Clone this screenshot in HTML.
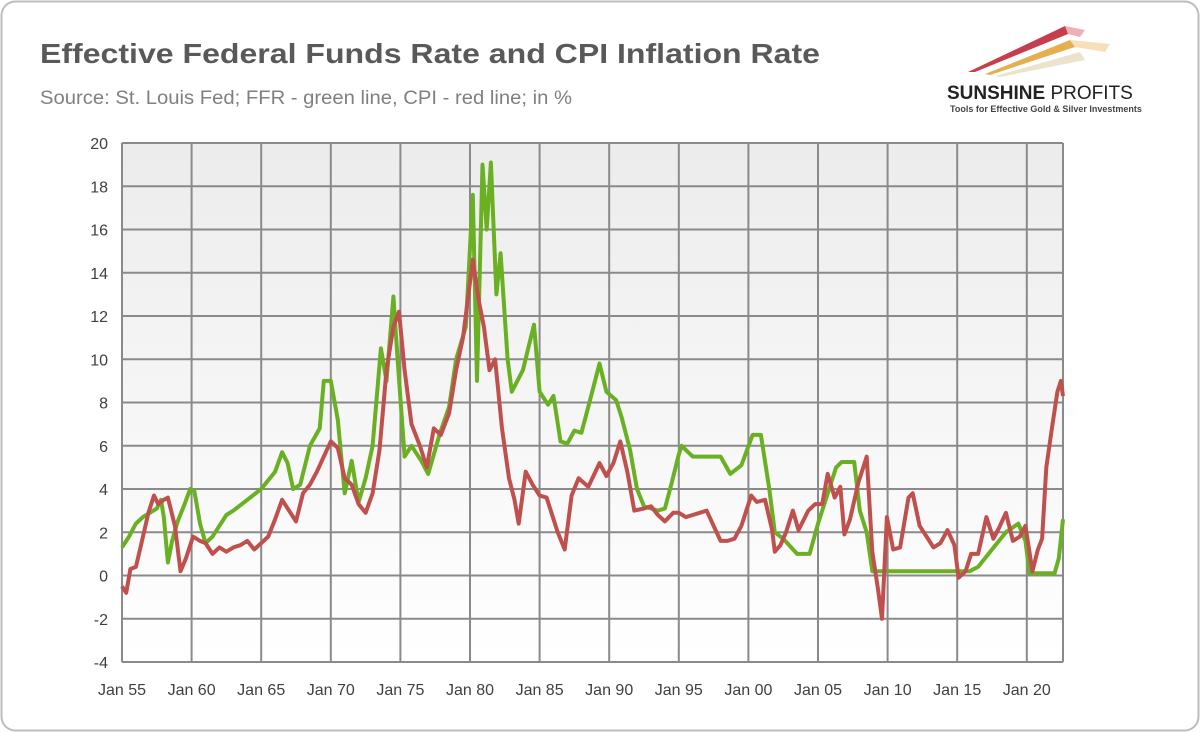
<!DOCTYPE html>
<html><head><meta charset="utf-8"><style>
body{margin:0;background:#fff;}
#wrap{position:relative;width:1200px;height:732px;overflow:hidden;font-family:"Liberation Sans",sans-serif;}
</style></head><body>
<div id="wrap">
<svg id="svg" width="1200" height="732">
<defs><linearGradient id="bg" x1="0" y1="0" x2="0" y2="1"><stop offset="0" stop-color="#ececec"/><stop offset="1" stop-color="#ffffff"/></linearGradient></defs>
<rect x="1.5" y="1.5" width="1197" height="729" rx="14" fill="#fff" stroke="#bdbdbd" stroke-width="2"/>
<text x="40" y="63" font-size="28" font-weight="bold" fill="#595959" textLength="780" lengthAdjust="spacingAndGlyphs">Effective Federal Funds Rate and CPI Inflation Rate</text>
<text x="40" y="104" font-size="19" fill="#808080" textLength="532" lengthAdjust="spacingAndGlyphs">Source: St. Louis Fed; FFR - green line, CPI - red line; in %</text>
<g>
<polygon points="968,72 1065,26 1068,34 975,72" fill="#c0283a" opacity="0.9"/>
<polygon points="1065,26 1085,30 1080,37 1068,34" fill="#e06070" opacity="0.5"/>
<polygon points="985,74 1070,40 1075,47 990,75" fill="#e0a030" opacity="0.85"/>
<polygon points="1070,40 1110,44 1105,52 1075,47" fill="#f0c070" opacity="0.5"/>
<polygon points="995,76 1080,52 1085,60 1000,77" fill="#e8dcc0" opacity="0.8"/>
<text x="947" y="99" font-size="19" font-weight="bold" fill="#222">SUNSHINE <tspan font-weight="normal">PROFITS</tspan></text>
<text x="950" y="112" font-size="9" font-weight="bold" fill="#444">Tools for Effective Gold &amp; Silver Investments</text>
</g>
<rect x="122" y="143" width="941" height="519" fill="url(#bg)"/>
<g id="grid"></g><g id="axes"></g><g id="series"></g>
</svg>
</div>
<script>
const ffrYears=[1955.0,1955.5,1956,1956.5,1957,1957.5,1957.8,1958.0,1958.3,1958.6,1959,1959.5,1959.9,1960.2,1960.6,1961,1961.5,1962,1962.5,1963,1964,1965,1966,1966.5,1966.9,1967.3,1967.8,1968.5,1969.2,1969.5,1970,1970.5,1971,1971.5,1972,1972.5,1973,1973.6,1974,1974.5,1974.8,1975.3,1975.8,1976.5,1977,1977.8,1978.5,1979,1979.7,1980.2,1980.5,1980.9,1981.2,1981.5,1981.9,1982.2,1982.7,1983,1983.8,1984.6,1985,1985.6,1986,1986.5,1987,1987.5,1988,1988.5,1989.3,1989.8,1990.5,1990.9,1991.5,1992,1992.5,1993.5,1994,1994.5,1995,1995.2,1996,1997,1998,1998.7,1999.5,2000.3,2000.9,2001.5,2001.9,2002.5,2003.5,2004.4,2005,2005.6,2006.3,2006.7,2007.6,2008,2008.5,2008.9,2015.9,2016.5,2017.5,2018.5,2019.4,2019.9,2020.2,2022.0,2022.3,2022.6];
const ffrValues=[1.3,1.8,2.4,2.7,2.9,3.1,3.5,2.7,0.6,1.6,2.5,3.3,4.0,3.9,2.4,1.5,1.8,2.3,2.8,3.0,3.5,4.0,4.8,5.7,5.2,4.0,4.2,6.0,6.8,9.0,9.0,7.2,3.8,5.3,3.4,4.5,6.0,10.5,9.0,12.9,10.0,5.5,6.0,5.3,4.7,6.5,7.8,10.0,11.5,17.6,9.0,19.0,16.0,19.1,13.0,14.9,10.0,8.5,9.5,11.6,8.5,7.9,8.3,6.2,6.1,6.7,6.6,7.8,9.8,8.5,8.1,7.3,5.8,4.0,3.2,3.0,3.1,4.3,5.6,6.0,5.5,5.5,5.5,4.7,5.1,6.5,6.5,4.0,2.0,1.7,1.0,1.0,2.4,3.6,5.0,5.25,5.25,3.0,2.0,0.2,0.2,0.4,1.2,2.0,2.4,1.6,0.1,0.1,0.8,2.6];
const cpiYears=[1955.0,1955.3,1955.6,1956,1956.4,1956.9,1957.3,1957.6,1958.0,1958.3,1958.8,1959.2,1959.6,1960.1,1960.6,1961,1961.5,1962,1962.5,1963,1963.5,1964,1964.5,1965,1965.5,1966,1966.5,1967,1967.5,1968,1968.5,1969,1969.5,1970,1970.5,1971,1971.5,1972,1972.5,1973,1973.5,1974,1974.5,1974.9,1975.3,1975.8,1976.4,1976.9,1977.4,1977.9,1978.5,1979,1979.5,1980.2,1980.6,1981,1981.4,1981.8,1982.3,1982.8,1983.2,1983.5,1984,1984.5,1985,1985.5,1986.3,1986.8,1987.3,1987.8,1988.5,1989.3,1989.8,1990.3,1990.8,1991.3,1991.8,1992.5,1993,1993.5,1994,1994.6,1995,1995.5,1996,1996.5,1997,1997.5,1998,1998.5,1999,1999.5,2000.2,2000.6,2001.2,2001.7,2001.9,2002.3,2002.7,2003.2,2003.6,2004.3,2004.8,2005.3,2005.7,2006.2,2006.6,2006.9,2007.3,2007.9,2008.5,2008.9,2009.3,2009.6,2009.95,2010.4,2010.9,2011.5,2011.8,2012.3,2012.8,2013.3,2013.8,2014.3,2014.8,2015.1,2015.6,2016,2016.5,2017.1,2017.6,2018,2018.5,2019,2019.5,2019.9,2020.4,2020.8,2021.1,2021.4,2021.8,2022.2,2022.45,2022.6];
const cpiValues=[-0.5,-0.8,0.3,0.4,1.5,2.9,3.7,3.3,3.5,3.6,2.3,0.2,0.8,1.8,1.6,1.5,1.0,1.3,1.1,1.3,1.4,1.6,1.2,1.5,1.8,2.6,3.5,3.0,2.5,3.8,4.2,4.8,5.5,6.2,5.9,4.5,4.2,3.3,2.9,3.8,5.8,9.5,11.5,12.2,9.5,7.0,6.0,5.0,6.8,6.5,7.5,9.5,11.0,14.6,12.8,11.5,9.5,10.0,6.8,4.5,3.5,2.4,4.8,4.2,3.7,3.6,2.0,1.2,3.7,4.5,4.1,5.2,4.6,5.2,6.2,4.8,3.0,3.1,3.2,2.8,2.5,2.9,2.9,2.7,2.8,2.9,3.0,2.3,1.6,1.6,1.7,2.3,3.7,3.4,3.5,2.1,1.1,1.4,2.0,3.0,2.1,3.0,3.3,3.3,4.7,3.6,4.1,1.9,2.6,4.3,5.5,1.1,-0.6,-2.0,2.7,1.2,1.3,3.6,3.8,2.3,1.8,1.3,1.5,2.1,1.4,-0.1,0.2,1.0,1.0,2.7,1.7,2.2,2.9,1.6,1.8,2.3,0.2,1.2,1.7,5.0,6.8,8.5,9.0,8.3];
const yTicks=[-4,-2,0,2,4,6,8,10,12,14,16,18,20];
const xTickYears=[1955,1960,1965,1970,1975,1980,1985,1990,1995,2000,2005,2010,2015,2020];
const xTickLabels=["Jan 55","Jan 60","Jan 65","Jan 70","Jan 75","Jan 80","Jan 85","Jan 90","Jan 95","Jan 00","Jan 05","Jan 10","Jan 15","Jan 20"];

const NS="http://www.w3.org/2000/svg";
const L=122,R=1063,T=143,B=662;
const xS=y=>L+(y-1955)*13.92;
const yS=v=>B-(v+4)*(B-T)/24;
function mk(tag,attrs,parent){const e=document.createElementNS(NS,tag);for(const k in attrs)e.setAttribute(k,attrs[k]);parent.appendChild(e);return e;}
const grid=document.getElementById('grid'),axes=document.getElementById('axes'),series=document.getElementById('series');
yTicks.forEach(v=>{
  const ln=mk('line',{x1:L,x2:R,y1:yS(v),y2:yS(v),stroke:'#8a8a8a','stroke-width':2},grid);
  
  
  const t=mk('text',{x:L-14,y:yS(v)+6,'text-anchor':'end','font-size':16,fill:'#404040'},axes);
  t.textContent=v;
  
  
});
xTickYears.forEach((yr,i)=>{
  const ln=mk('line',{x1:xS(yr),x2:xS(yr),y1:T,y2:B,stroke:'#8a8a8a','stroke-width':2},grid);
  
  
  const t=mk('text',{x:xS(yr),y:B+33,'text-anchor':'middle','font-size':16,fill:'#404040'},axes);
  t.textContent=xTickLabels[i];
  
  
});
const rl=mk('line',{x1:R,x2:R,y1:T,y2:B,stroke:'#8a8a8a','stroke-width':2},grid);


function path(xs,vs){return xs.map((x,i)=>(i?'L':'M')+xS(x).toFixed(1)+','+yS(vs[i]).toFixed(1)).join('');}
const g=mk('path',{d:path(ffrYears,ffrValues),fill:'none',stroke:'#6ab023','stroke-width':4,'stroke-linejoin':'round'},series);


const r=mk('path',{d:path(cpiYears,cpiValues),fill:'none',stroke:'#c0504d','stroke-width':4,'stroke-linejoin':'round'},series);


</script>
</body></html>
